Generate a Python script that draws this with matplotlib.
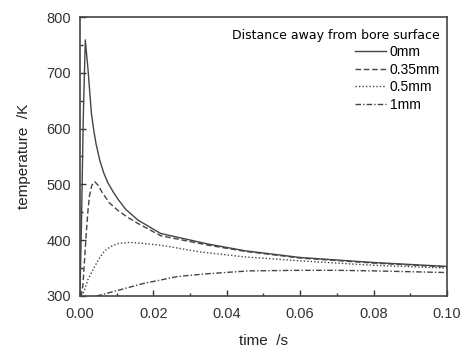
import numpy as np
import matplotlib
matplotlib.use("Agg")
import matplotlib.pyplot as plt
from matplotlib.ticker import MultipleLocator

plt.rcParams['font.family'] = ['Liberation Sans', 'DejaVu Sans']

# values
t_0mm = [0, 0.0004, 0.0009, 0.00145, 0.0022, 0.0031, 0.0038, 0.0044, 0.0054,
         0.0065, 0.0076, 0.009, 0.0104, 0.0125, 0.0158, 0.022, 0.035, 0.045,
         0.06, 0.08, 0.1]
T_0mm = [300, 430, 620, 759, 705, 628, 595, 572, 543,
         520, 503, 487, 473, 455, 436, 412, 393, 381,
         369, 360, 353]

t_035 = [0, 0.0004, 0.0008, 0.0012, 0.0017, 0.0022, 0.0026, 0.0032, 0.004,
         0.005, 0.006, 0.008, 0.0104, 0.013, 0.0158, 0.022, 0.035, 0.045,
         0.06, 0.08, 0.1]
T_035 = [300, 302, 320, 360, 412, 455, 480, 498, 505,
         498, 486, 467, 453, 441, 430, 408, 391, 380,
         368, 359, 352]

t_05 = [0.0003, 0.0008, 0.0013, 0.0022, 0.003, 0.004, 0.0055, 0.0067, 0.0085,
        0.0104, 0.0135, 0.0158, 0.022, 0.0327, 0.045, 0.06, 0.08, 0.1]
T_05 = [300, 304, 312, 330, 340, 353, 370, 381, 389,
        394, 396, 395, 391, 379, 370, 363, 355, 350]

t_1mm = [0.0045, 0.008, 0.012, 0.017, 0.0267, 0.035, 0.046, 0.06, 0.07,
         0.08, 0.09, 0.1]
T_1mm = [300, 306, 313, 322, 335, 340, 345, 346, 346,
         345, 343.5, 342]

labels = ["0mm", "0.35mm", "0.5mm", "1mm"]
styles = ['-', (0, (4, 2)), (0, (1, 1.5)), (0, (4, 1.5, 1, 1.5))]

fig = plt.figure(figsize=(4.61, 3.47), dpi=100)
ax = fig.add_axes([0.1735, 0.147, 0.7961, 0.804])

series = [(t_0mm, T_0mm), (t_035, T_035), (t_05, T_05), (t_1mm, T_1mm)]
for (t, T), lab, ls in zip(series, labels, styles):
    ax.plot(t, T, color='#444444', lw=1.0, ls=ls, label=lab)

ax.set_xlim(0, 0.1)
ax.set_ylim(300, 800)
ax.xaxis.set_major_locator(MultipleLocator(0.02))
ax.xaxis.set_minor_locator(MultipleLocator(0.01))
ax.yaxis.set_major_locator(MultipleLocator(100))
ax.yaxis.set_minor_locator(MultipleLocator(50))
ax.xaxis.set_major_formatter(plt.FormatStrFormatter('%.2f'))
ax.tick_params(which='both', direction='in', top=False, right=False,
               labelsize=10.5, colors='#333333')
ax.tick_params(which='major', length=4, width=1)
ax.tick_params(axis='x', which='major', pad=8)
ax.tick_params(axis='y', which='major', pad=6.5)
ax.tick_params(which='minor', length=2.5, width=1)
for sp in ax.spines.values():
    sp.set_linewidth(1.2)
    sp.set_color('#444444')

ax.set_xlabel("time  /s", fontsize=11, color='#222222', labelpad=9)
ax.set_ylabel("temperature  /K", fontsize=11, color='#222222', labelpad=11)

leg = ax.legend(title="Distance away from bore surface", loc='upper right',
                bbox_to_anchor=(1.013, 1.0),
                frameon=False, fontsize=10, title_fontsize=9,
                handlelength=2.2, handletextpad=0.3, labelspacing=0.25,
                alignment='right', borderaxespad=0.45)
leg.get_title().set_family(['DejaVu Sans'])

fig.savefig("out.png", dpi=100)
